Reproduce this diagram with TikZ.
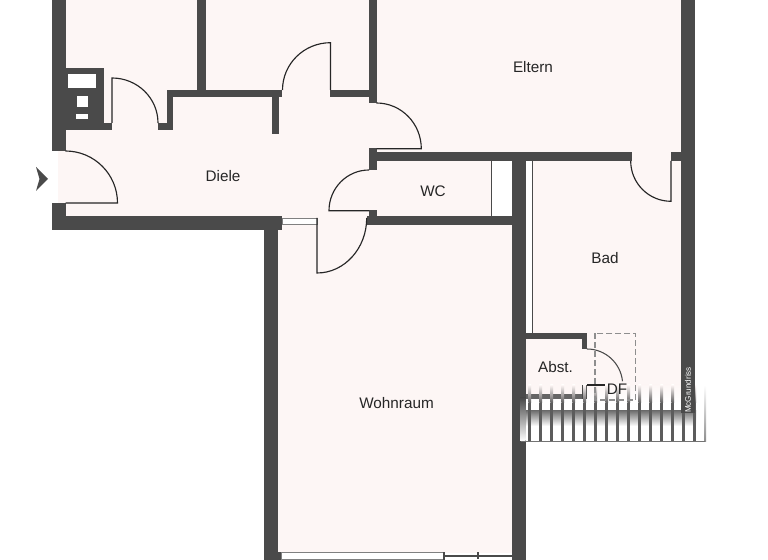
\documentclass[tikz,border=0pt]{standalone}
\usepackage{fontspec}
\setmainfont{Liberation Sans}
\usetikzlibrary{
    calc,
    positioning
}
\definecolor{wallgrey}{HTML}{4A4A4A}
\definecolor{roompink}{HTML}{FDF6F5}
\definecolor{dashgrey}{HTML}{8E8E8E}
\tikzset{
    wall/.style={fill=wallgrey, draw=none},
    room/.style={fill=roompink, draw=none},
    leaf/.style={draw=black!85, line width=0.65pt},
    pane/.style={fill=white, draw=wallgrey!70, line width=0.5pt},
    thinwall/.style={draw=wallgrey, line width=1pt},
    label/.style={font=\fontsize{8.7}{10}\selectfont, text=black!85, inner sep=0pt}
}

\begin{document}
\begin{tikzpicture}[x=0.02cm, y=-0.02cm]
    \useasboundingbox (0, 0) rectangle (768, 560);

    % room floors
    \fill[room] (65, 0) rectangle (681, 153);
    \fill[room] (58, 130) rectangle (491, 217);
    \fill[room] (278, 217) rectangle (512, 553);
    \fill[room] (533, 161) rectangle (681, 385);
    \fill[room] (631, 150) rectangle (671, 162);
    \fill[room] (525, 339) rectangle (582, 394);
    \shade[top color=roompink, bottom color=white] (587, 385) rectangle (681, 402);

    % staircase band
    \shade[top color=black!55, bottom color=white] (526, 411) rectangle (696, 426);

    % outer and inner walls
    \fill[wall] (52, 0) rectangle (65.5, 151.5);
    \fill[wall] (52, 203) rectangle (65.5, 230);
    \fill[wall] (52, 216.5) rectangle (282, 230);
    \fill[wall] (264, 216.5) rectangle (278, 560);
    \fill[wall] (197, 0) rectangle (206, 92);
    \fill[wall] (167, 90) rectangle (282, 97);
    \fill[wall] (167, 90) rectangle (173, 130);
    \fill[wall] (157.5, 123) rectangle (173, 130);
    \fill[wall] (272, 97) rectangle (279, 134);
    \fill[wall] (330, 90) rectangle (372, 97);
    \fill[wall] (369, 0) rectangle (376.5, 103);
    \fill[wall] (369, 148) rectangle (376.5, 170);
    \fill[wall] (369, 152.5) rectangle (631.5, 161.5);
    \fill[wall] (671, 152.5) rectangle (690, 161.5);
    \fill[wall] (367, 216) rectangle (512, 225);
    \fill[wall] (369, 210) rectangle (376.5, 218);
    \fill[wall] (512, 161) rectangle (525.5, 560);
    \shade[top color=wallgrey, bottom color=white] (520, 398) rectangle (525.5, 441);
    \fill[wall] (526, 333) rectangle (587, 339.5);
    \fill[wall] (581.5, 333) rectangle (587, 349);
    \fill[wallgrey!85] (526, 394) rectangle (587, 399.5);
    \fill[wall] (581.5, 385.5) rectangle (587, 399.5);
    \draw[thinwall] (491.5, 161) -- (491.5, 216);
    \draw[thinwall] (532.5, 161) -- (532.5, 333);

    % balusters
    \foreach \i in {0, ..., 15} {
        \shade[top color=roompink, bottom color=wallgrey!90] ({528.3 + 11 * \i}, 385) rectangle ({531.1 + 11 * \i}, 403);
        \fill[wallgrey!90] ({528.3 + 11 * \i}, 403) rectangle ({531.1 + 11 * \i}, 442);
    }
    \shade[top color=white, bottom color=black!45] (704.6, 385) rectangle (706.2, 442);
    \draw[black!55, line width=0.6pt] (521, 441.7) -- (705, 441.7);

    % outer wall above the staircase
    \fill[wall] (681, 0) rectangle (694.5, 413);

    % shaft with its openings
    \fill[wall] (65, 68.5) rectangle (104, 130);
    \fill[wall] (104, 123) rectangle (112, 130);
    \fill[white] (68, 74.5) rectangle (96, 88.5);
    \fill[white] (76.5, 96.5) rectangle (87.5, 107.5);
    \fill[white] (76, 114.5) rectangle (87.5, 119.5);

    % windows
    \draw[pane] (282, 218) rectangle (317, 224);
    \fill[wallgrey] (278, 552) rectangle (281, 560);
    \draw[pane] (281, 552.5) rectangle (444, 559);
    \fill[wallgrey] (443, 552) rectangle (445, 560);
    \draw[wallgrey, line width=0.8pt] (445, 556) -- (512, 556);
    \draw[wallgrey, line width=0.8pt] (478, 552.5) -- (478, 559);

    % doors
    \draw[leaf] (65.5, 203) -- (117.5, 203) arc[start angle=0, end angle=-90, radius=52];
    \draw[leaf] (112, 123) -- (112, 78) arc[start angle=-90, end angle=0, x radius=46, y radius=45];
    \draw[leaf] (330.5, 90) -- (330.5, 42.7) arc[start angle=-90, end angle=-180, x radius=48, y radius=47.3];
    \draw[leaf] (376.5, 148.7) -- (421.3, 148.7) arc[start angle=0, end angle=-90, x radius=44.8, y radius=45.7];
    \draw[leaf] (369, 210.7) -- (329, 210.7) arc[start angle=180, end angle=270, x radius=40, y radius=40.7];
    \draw[leaf] (317, 218) -- (317, 273) arc[start angle=90, end angle=0, x radius=49.7, y radius=55];
    \draw[leaf] (671, 161) -- (671, 201.3) arc[start angle=90, end angle=180, x radius=40.3, y radius=40.3];
    \draw[wallgrey, line width=0.6pt] (587, 349) arc[start angle=-90, end angle=-6, x radius=35.7, y radius=36];
    \draw[leaf] (587, 385) -- (605, 385);

    % roof window
    \draw[dashgrey, line width=0.8pt, dash pattern=on 3.4pt off 1.7pt] (595, 333.5) rectangle (635.7, 400);

    % entrance
    \fill[wallgrey] (36, 167) -- (48, 179) -- (36, 191) -- (39.5, 179) -- cycle;

    \node[label] (eltern) at (533, 67) {Eltern};
    \node[label] (diele) at (223, 176) {Diele};
    \node[label] (wc) at (433, 191) {WC};
    \node[label] (bad) at (605, 258) {Bad};
    \node[label] (abst) at (555.5, 367) {Abst.};
    \node[label] (df) at (617, 389) {DF};
    \node[label] (wohnraum) at (396.5, 403) {Wohnraum};
    \node[rotate=90, text=white, inner sep=0pt, font=\fontsize{4.6}{5}\selectfont] (brand) at (688, 390) {McGrundriss};
\end{tikzpicture}
\end{document}
